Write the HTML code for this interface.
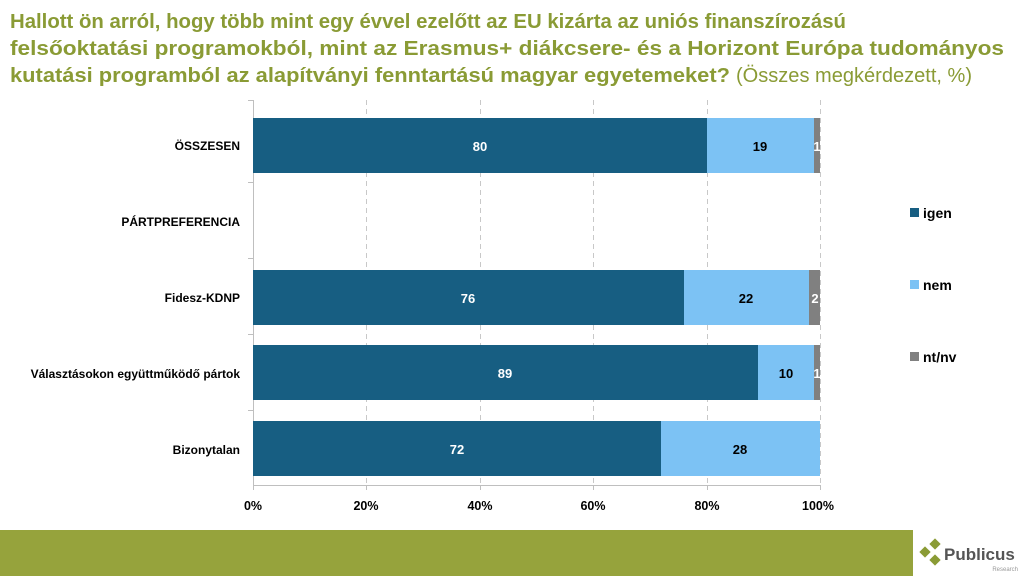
<!DOCTYPE html>
<html><head><meta charset="utf-8"><style>
body{margin:0;background:#fff;}
svg{display:block;font-family:"Liberation Sans",sans-serif;}
</style></head><body>
<svg width="1024" height="576" viewBox="0 0 1024 576">
<g fill="#8a9b35" font-weight="bold" font-size="20">
<text x="10" y="28" textLength="836" lengthAdjust="spacingAndGlyphs">Hallott ön arról, hogy több mint egy évvel ezelőtt az EU kizárta az uniós finanszírozású</text>
<text x="10" y="55" textLength="994" lengthAdjust="spacingAndGlyphs">felsőoktatási programokból, mint az Erasmus+ diákcsere- és a Horizont Európa tudományos</text>
<text x="10" y="82"><tspan textLength="720" lengthAdjust="spacingAndGlyphs">kutatási programból az alapítványi fenntartású magyar egyetemeket?</tspan><tspan font-weight="normal" dx="6" textLength="236" lengthAdjust="spacingAndGlyphs">(Összes megkérdezett, %)</tspan></text>
</g>
<g stroke="#c8c8c8" stroke-dasharray="5,4">
<line x1="366.5" y1="100" x2="366.5" y2="485"/><line x1="480.5" y1="100" x2="480.5" y2="485"/>
<line x1="593.5" y1="100" x2="593.5" y2="485"/><line x1="707.5" y1="100" x2="707.5" y2="485"/>
<line x1="820.5" y1="100" x2="820.5" y2="485"/>
</g>
<g stroke="#bfbfbf">
<line x1="253.5" y1="100" x2="253.5" y2="485"/>
<line x1="253" y1="485.5" x2="821" y2="485.5"/>
<line x1="248" y1="100.5" x2="253" y2="100.5"/><line x1="248" y1="182.5" x2="253" y2="182.5"/><line x1="248" y1="258.5" x2="253" y2="258.5"/><line x1="248" y1="334.5" x2="253" y2="334.5"/><line x1="248" y1="410.5" x2="253" y2="410.5"/>
<line x1="253.5" y1="485" x2="253.5" y2="490"/><line x1="366.5" y1="485" x2="366.5" y2="490"/><line x1="480.5" y1="485" x2="480.5" y2="490"/><line x1="593.5" y1="485" x2="593.5" y2="490"/><line x1="707.5" y1="485" x2="707.5" y2="490"/><line x1="820.5" y1="485" x2="820.5" y2="490"/>
</g>
<!-- bars -->
<rect x="253" y="118" width="454" height="55" fill="#175e82"/><rect x="707" y="118" width="107" height="55" fill="#7cc2f4"/><rect x="814" y="118" width="6" height="55" fill="#808080"/>
<rect x="253" y="270" width="431" height="55" fill="#175e82"/><rect x="684" y="270" width="125" height="55" fill="#7cc2f4"/><rect x="809" y="270" width="11" height="55" fill="#808080"/>
<rect x="253" y="345" width="505" height="55" fill="#175e82"/><rect x="758" y="345" width="56" height="55" fill="#7cc2f4"/><rect x="814" y="345" width="6" height="55" fill="#808080"/>
<rect x="253" y="421" width="408" height="55" fill="#175e82"/><rect x="661" y="421" width="159" height="55" fill="#7cc2f4"/>
<g font-weight="bold" font-size="13" text-anchor="middle">
<text x="480" y="151" fill="#fff">80</text><text x="760" y="151" fill="#000">19</text><text x="817" y="151" fill="#fff">1</text>
<text x="468" y="303" fill="#fff">76</text><text x="746" y="303" fill="#000">22</text><text x="815" y="303" fill="#fff">2</text>
<text x="505" y="378" fill="#fff">89</text><text x="786" y="378" fill="#000">10</text><text x="817" y="378" fill="#fff">1</text>
<text x="457" y="454" fill="#fff">72</text><text x="740" y="454" fill="#000">28</text>
</g>
<g font-weight="bold" font-size="12" text-anchor="end" fill="#000">
<text x="240" y="150">ÖSSZESEN</text><text x="240" y="226">PÁRTPREFERENCIA</text><text x="240" y="302">Fidesz-KDNP</text><text x="240" y="378">Választásokon együttműködő pártok</text><text x="240" y="454">Bizonytalan</text>
</g>
<g font-weight="bold" font-size="12.5" text-anchor="middle" fill="#000">
<text x="253" y="510">0%</text><text x="366" y="510">20%</text><text x="480" y="510">40%</text><text x="593" y="510">60%</text><text x="707" y="510">80%</text><text x="818" y="510">100%</text>
</g>
<rect x="910" y="208" width="9" height="9" fill="#175e82"/><rect x="910" y="280" width="9" height="9" fill="#7cc2f4"/><rect x="910" y="352" width="9" height="9" fill="#808080"/>
<g font-weight="bold" font-size="14" fill="#000"><text x="923" y="218">igen</text><text x="923" y="290">nem</text><text x="923" y="362">nt/nv</text></g>
<rect x="0" y="530" width="913" height="46" fill="#96a33c"/>
<g fill="#8a9b35">
<rect x="931" y="540" width="8" height="8" transform="rotate(45 935 544)"/>
<rect x="921" y="548" width="8" height="8" transform="rotate(45 925 552)"/>
<rect x="931" y="556" width="8" height="8" transform="rotate(45 935 560)"/>
</g>
<text x="944" y="560" font-weight="bold" font-size="17" fill="#555">Publicus</text>
<text x="1018" y="571" font-size="6" fill="#999" text-anchor="end">Research</text>
</svg>
</body></html>
